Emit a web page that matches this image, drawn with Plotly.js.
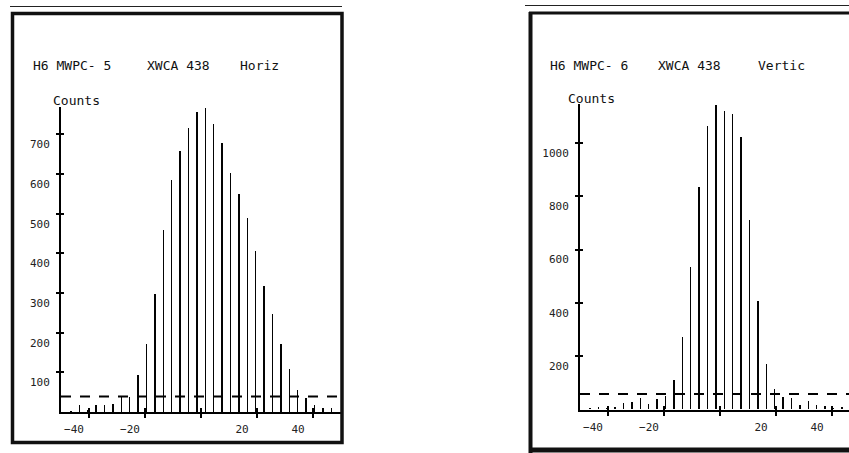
<!DOCTYPE html>
<html><head><meta charset="utf-8">
<script src="https://cdn.plot.ly/plotly-3.0.1.min.js"></script>
<style>html,body{margin:0;padding:0;background:#fff;}#chart{width:849px;height:453px;}</style>
</head><body><div id="chart"></div>
<script>
// ---- data ----
const binCenters = [-46.5,-43.5,-40.5,-37.5,-34.5,-31.5,-28.5,-25.5,-22.5,-19.5,-16.5,-13.5,-10.5,-7.5,-4.5,-1.5,
                    1.5,4.5,7.5,10.5,13.5,16.5,19.5,22.5,25.5,28.5,31.5,34.5,37.5,40.5,43.5,46.5];
const horizCounts = [4,19,6,19,19,20,38,38,94,172,298,460,587,658,717,757,
                     767,726,679,603,551,489,406,318,248,172,109,57,35,19,11,11];
const verticCounts = [4,8,6,8,22,27,40,20,37,51,111,271,533,834,1061,1142,
                      1120,1107,1023,710,404,168,77,45,43,17,29,17,11,6,7,5];
const horizThreshold = 39;
const verticThreshold = 58;
const xTickVals = [-40,-20,0,20,40];
const xTickText = ['\u221240','\u221220','','20','40'];
const horizYTicks = [100,200,300,400,500,600,700];
const horizYText = ['100','200','300','400','500','600','700'];
const verticYTicks = [200,400,600,800,1000];
const verticYText = ['200','400','600','800','1000'];
const leftTitle = ['H6 MWPC- 5','XWCA 438','Horiz'];
const rightTitle = ['H6 MWPC- 6','XWCA 438','Vertic'];
const yLabel = 'Counts';

// ---- geometry helpers ----
const W = 849, H = 453;
const px = v => v / W;
const py = v => 1 - v / H;
const FONT = 'DejaVu Sans Mono';

function baseX(domain, range, anchor, tv, tt){
  return {domain, range, anchor, showline:true, linecolor:'#000', linewidth:2,
    ticks:'outside', ticklen:4, tickwidth:2, tickcolor:'#000',
    tickmode:'array', tickvals:tv, ticktext:tt, ticklabelshift:-15, ticklabelstandoff:2,
    tickfont:{family:FONT, size:11, color:'#222'}, showgrid:false, zeroline:false, fixedrange:true};
}
function overX(over, domain, range, anchor, tv){
  return {overlaying:over, domain, range, anchor, showline:false, ticks:'inside', ticklen:4, tickwidth:2,
    tickcolor:'#000', tickmode:'array', tickvals:tv, showticklabels:false, showgrid:false, zeroline:false, fixedrange:true};
}
function baseY(domain, range, anchor, tv, tt){
  return {domain, range, anchor, showline:true, linecolor:'#000', linewidth:2,
    ticks:'outside', ticklen:3, tickwidth:2, tickcolor:'#000',
    tickmode:'array', tickvals:tv, ticktext:tt, ticklabelshift:10, ticklabelstandoff:4,
    tickfont:{family:FONT, size:11, color:'#222'}, showgrid:false, zeroline:false, fixedrange:true};
}
function overY(over, domain, range, anchor, tv){
  return {overlaying:over, domain, range, anchor, showline:false, ticks:'inside', ticklen:3, tickwidth:2,
    tickcolor:'#000', tickmode:'array', tickvals:tv, showticklabels:false, showgrid:false, zeroline:false, fixedrange:true};
}

const lxDom = [px(61), px(341)], lxRange = [-50, 50];
const lyDom = [py(412), py(412 - 770*0.3965)], lyRange = [0, 770];
const rxDom = [px(580), 1], rxRange = [-50, -50 + 269/2.8];
const ryDom = [py(409.5), py(409.5 - 1145*0.2665)], ryRange = [0, 1145];

const barStyle = {color:'rgba(0,0,0,0.99)', line:{width:0}};
const traces = [
  {type:'bar', x:binCenters, y:horizCounts, width:0.5, marker:barStyle, xaxis:'x', yaxis:'y', hoverinfo:'x+y'},
  {type:'scatter', mode:'lines', x:[lxRange[0], lxRange[1]], y:[horizThreshold, horizThreshold],
   line:{color:'#000', width:2, dash:'10px,9px'}, xaxis:'x3', yaxis:'y3', hoverinfo:'skip'},
  {type:'bar', x:binCenters, y:verticCounts, width:0.5, marker:barStyle, xaxis:'x2', yaxis:'y2', hoverinfo:'x+y'},
  {type:'scatter', mode:'lines', x:[rxRange[0], 50], y:[verticThreshold, verticThreshold],
   line:{color:'#000', width:2, dash:'10px,9px'}, xaxis:'x4', yaxis:'y4', hoverinfo:'skip'}
];

const titleFont = {family:FONT, size:13, color:'#111'};
function ann(text, x, y, anchor){
  return {text, xref:'paper', yref:'paper', x:px(x), y:py(y), xanchor:anchor||'left', yanchor:'middle',
    showarrow:false, font:titleFont};
}
const annotations = [
  ann(leftTitle[0], 31, 66), ann(leftTitle[1], 145, 66), ann(leftTitle[2], 238, 66),
  ann(rightTitle[0], 548, 66), ann(rightTitle[1], 656, 66), ann(rightTitle[2], 756, 66),
  ann(yLabel, 76, 100, 'center'), ann(yLabel, 591, 98, 'center')
];

const shapes = [
  {type:'line', xref:'paper', yref:'paper', x0:px(10), x1:px(342), y0:py(6.5), y1:py(6.5), line:{color:'#222', width:1.2}},
  {type:'rect', xref:'paper', yref:'paper', x0:px(12.5), x1:px(342), y0:py(13.5), y1:py(442.5), line:{color:'#111', width:3.5}},
  {type:'line', xref:'paper', yref:'paper', x0:px(525), x1:px(849), y0:py(5.5), y1:py(5.5), line:{color:'#222', width:1.2}},
  {type:'line', xref:'paper', yref:'paper', x0:px(530.5), x1:px(530.5), y0:py(12), y1:py(453), line:{color:'#111', width:4}},
  {type:'line', xref:'paper', yref:'paper', x0:px(529), x1:px(849), y0:py(13), y1:py(13), line:{color:'#111', width:3}},
  {type:'line', xref:'paper', yref:'paper', x0:px(529), x1:px(849), y0:py(450), y1:py(450), line:{color:'#111', width:5}}
];

const layout = {
  width:W, height:H, margin:{l:0, r:0, t:0, b:0, pad:0},
  paper_bgcolor:'#fff', plot_bgcolor:'#fff', showlegend:false, bargap:0,
  xaxis: baseX(lxDom, lxRange, 'y', xTickVals, xTickText),
  yaxis: baseY(lyDom, lyRange, 'x', horizYTicks, horizYText),
  xaxis3: overX('x', lxDom, lxRange, 'y', xTickVals),
  yaxis3: overY('y', lyDom, lyRange, 'x', horizYTicks),
  xaxis2: baseX(rxDom, rxRange, 'y2', xTickVals, xTickText),
  yaxis2: baseY(ryDom, ryRange, 'x2', verticYTicks, verticYText),
  xaxis4: overX('x2', rxDom, rxRange, 'y2', xTickVals),
  yaxis4: overY('y2', ryDom, ryRange, 'x2', verticYTicks),
  annotations, shapes
};

Plotly.newPlot('chart', traces, layout, {displayModeBar:false});
</script>
</body></html>
